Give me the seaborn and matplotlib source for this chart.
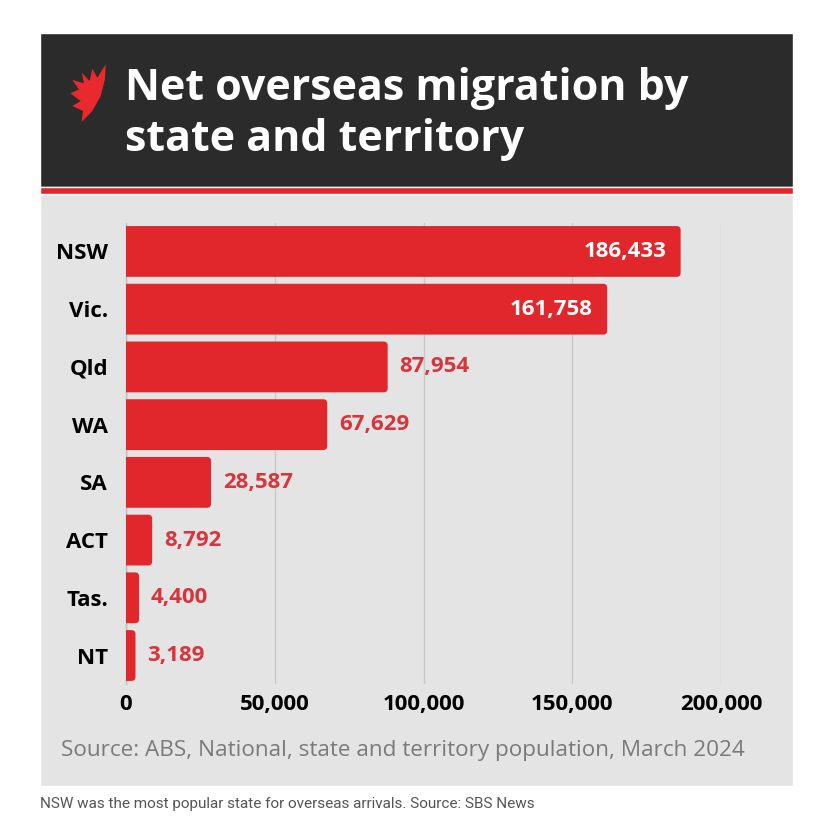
import numpy as np
import pandas as pd
import matplotlib
matplotlib.use("Agg")
import matplotlib.pyplot as plt
from matplotlib.patches import Rectangle, Polygon, FancyBboxPatch
import seaborn as sns

# Data
states = ["NSW", "Vic.", "Qld", "WA", "SA", "ACT", "Tas.", "NT"]
migration = [186433, 161758, 87954, 67629, 28587, 8792, 4400, 3189]
x_ticks = [0, 50000, 100000, 150000, 200000]

title = "Net overseas migration by\nstate and territory"
source = "Source: ABS, National, state and territory population, March 2024"
caption = "NSW was the most popular state for overseas arrivals. Source: SBS News"

BAR_RED = "#e1272b"
LABEL_RED = "#d7353b"
PANEL = "#e4e4e4"
HEADER = "#2b2b2b"

W, H = 840, 830
sns.set_style("white")
plt.rcParams["font.family"] = ["Open Sans", "DejaVu Sans"]

fig = plt.figure(figsize=(W / 100, H / 100), dpi=100)
fig.patch.set_facecolor("white")


def fx(px):
    return px / W


def fy(py):
    return 1 - py / H


# card background, header and red stripe (behind the axes)
fig.patches.append(Rectangle((fx(40), fy(786)), fx(793) - fx(40), fy(194) - fy(786),
                             transform=fig.transFigure, facecolor=PANEL, zorder=-5))
fig.patches.append(Rectangle((fx(40), fy(187)), fx(793) - fx(40), fy(33) - fy(187),
                             transform=fig.transFigure, facecolor=HEADER, zorder=-5))
fig.patches.append(Rectangle((fx(40), fy(194)), fx(793) - fx(40), fy(187) - fy(194),
                             transform=fig.transFigure, facecolor=BAR_RED, zorder=-5))

# rough SBS logo shape
logo_pts = [(140, 25), (138, 70), (125, 120), (100, 165), (68, 198), (72, 165),
            (40, 150), (65, 135), (34, 112), (60, 100), (40, 72), (75, 82),
            (68, 50), (92, 75), (100, 38), (115, 65)]
logo = Polygon([(fx(59 + a / 3), fy(56 + b / 3)) for a, b in logo_pts], closed=True,
               transform=fig.transFigure, facecolor="#e8292d", edgecolor="none", zorder=1)
fig.patches.append(logo)

fig.text(fx(125), fy(114), title, color="white", fontsize=31, fontweight="bold",
         va="center", ha="left", linespacing=1.27)

ax_left, ax_right, ax_top, ax_bottom = 126, 721, 222.6, 684.4
ax = fig.add_axes([fx(ax_left), fy(ax_bottom), fx(ax_right) - fx(ax_left),
                   (ax_bottom - ax_top) / H])
ax.set_facecolor("none")

df = pd.DataFrame({"state": states, "migration": migration})
sns.barplot(data=df, x="migration", y="state", color=BAR_RED, saturation=1,
            width=0.88, orient="h", ax=ax, zorder=3, linewidth=0)

ax.set_xlim(0, 200000)
ax.set_ylim(7.5, -0.5)

# swap the square bars for ones with softly rounded ends
x_per_px = 200000 / (ax_right - ax_left)
y_per_px = 8 / (ax_bottom - ax_top)
r = 4 * x_per_px
for p in list(ax.patches):
    x0, y0, w, h = p.get_x(), p.get_y(), p.get_width(), p.get_height()
    p.remove()
    ax.add_patch(FancyBboxPatch((x0 - r, y0), w + r, h,
                                boxstyle=f"round,pad=0,rounding_size={r}",
                                mutation_aspect=y_per_px / x_per_px,
                                facecolor=BAR_RED, edgecolor="none", zorder=3))

ax.set_xticks(x_ticks)
ax.set_xticklabels([f"{t:,}" for t in x_ticks])
ax.set_xlabel("")
ax.set_ylabel("")
for s in ["top", "right", "bottom"]:
    ax.spines[s].set_visible(False)
ax.spines["left"].set_color("#bdbdbd")
ax.spines["left"].set_linewidth(1)
ax.grid(axis="x", color="#c8c8c8", linewidth=1, zorder=0)
ax.tick_params(axis="both", length=0, labelsize=16)
ax.tick_params(axis="y", pad=13)
ax.tick_params(axis="x", pad=7)
for lab in ax.get_xticklabels() + ax.get_yticklabels():
    lab.set_fontweight("bold")
    lab.set_color("black")

for i, v in enumerate(migration):
    if v > 150000:
        ax.text(v - 4800, i, f"{v:,}", color="white", fontsize=16, fontweight="bold",
                ha="right", va="center", zorder=4)
    else:
        ax.text(v + 4000, i, f"{v:,}", color=LABEL_RED, fontsize=16, fontweight="bold",
                ha="left", va="center", zorder=4)

fig.text(fx(61), fy(750), source, color="#7a7a7a", fontsize=16.2, va="center", ha="left")
fig.text(fx(40), fy(804), caption, color="#555555", fontsize=11, va="center", ha="left",
         family=["Roboto", "DejaVu Sans"])

fig.savefig("out.png", dpi=100)
